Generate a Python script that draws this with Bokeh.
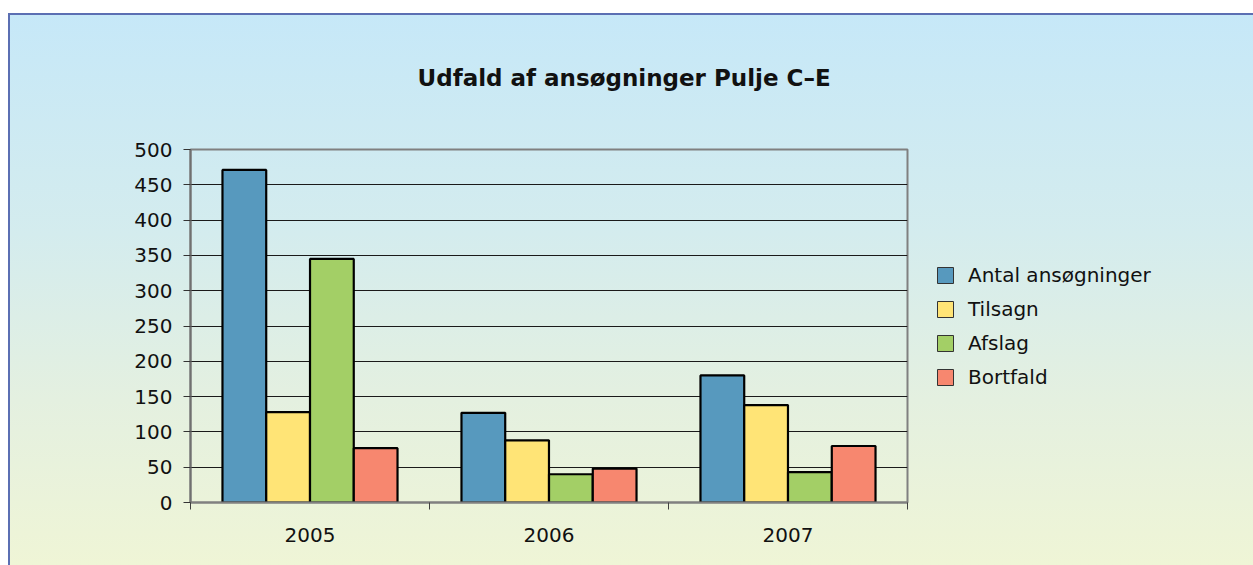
from bokeh.plotting import figure
from bokeh.models import (Range1d, FixedTicker, SingleIntervalTicker, Legend, LegendItem,
                          ColumnDataSource, InlineStyleSheet, Spacer)
from bokeh.layouts import column, row
from bokeh.embed import file_html
from bokeh.resources import INLINE

# ---- data ----
years = ["2005", "2006", "2007"]
series_names = ["Antal ansøgninger", "Tilsagn", "Afslag", "Bortfald"]
antal = [471, 127, 180]
tilsagn = [128, 88, 138]
afslag = [345, 40, 43]
bortfald = [77, 48, 80]
y_ticks_step = 50
y_max = 500

series_values = [antal, tilsagn, afslag, bortfald]
colors = ["#5799BE", "#FFE476", "#A3CF66", "#F7876F"]
offsets = [-0.2747, -0.0916, 0.0916, 0.2747]
bar_w = 0.183

FONT = "DejaVu Sans"
GRAD = "linear-gradient(to bottom, #C6E8F8 0%, #D4ECEE 40%, #E4F0E0 70%, #EFF5D6 100%)"

# ---------------- chart figure ----------------
p = figure(width=901, height=552, output_backend="svg", toolbar_location=None,
           x_range=Range1d(0, len(years)), y_range=Range1d(0, y_max),
           min_border_left=182, min_border_right=2, min_border_top=136,
           min_border_bottom=63)
p.background_fill_alpha = 0
p.border_fill_alpha = 0
p.stylesheets = [InlineStyleSheet(css=":host { background: %s; box-shadow: inset 2px 2px 0 0 #5b6fb3; }" % GRAD)]
p.outline_line_color = "#808080"
p.outline_line_width = 2

# title
p.title.text = "Udfald af ansøgninger Pulje C–E"
p.title.text_font = FONT
p.title.text_font_size = "23px"
p.title.text_font_style = "bold"
p.title.text_color = "#111111"
p.title.align = "left"
p.title.vertical_align = "bottom"
p.title.offset = 227
try:
    p.title.padding = dict(left=0, right=0, top=0, bottom=10)
    p.title.standoff = 97
except Exception:
    p.title.standoff = 107

# bars
for name, vals, col, off in zip(series_names, series_values, colors, offsets):
    src = ColumnDataSource(dict(x=[i + 0.5 + off for i in range(len(years))], top=vals))
    p.vbar(x="x", top="top", bottom=0, width=bar_w, source=src,
           fill_color=col, line_color="#000000", line_width=2.2)

# axes
xa = p.xaxis[0]
xa.ticker = FixedTicker(ticks=[i + 0.5 for i in range(len(years))],
                        minor_ticks=list(range(len(years) + 1)))
xa.major_label_overrides = {i + 0.5: y for i, y in enumerate(years)}
xa.major_tick_line_color = None
xa.major_tick_out = 0
xa.major_tick_in = 0
xa.minor_tick_out = 7
xa.minor_tick_in = 0
xa.minor_tick_line_color = "#404040"
xa.minor_tick_line_width = 1
xa.axis_line_color = "#808080"
xa.axis_line_width = 2
xa.major_label_text_font = FONT
xa.major_label_text_font_size = "20px"
xa.major_label_text_color = "#111111"
xa.major_label_standoff = 18

ya = p.yaxis[0]
ya.ticker = SingleIntervalTicker(interval=y_ticks_step, num_minor_ticks=0)
ya.major_tick_out = 7
ya.major_tick_in = 0
ya.major_tick_line_color = "#333333"
ya.minor_tick_line_color = None
ya.axis_line_color = "#707070"
ya.axis_line_width = 2
ya.major_label_text_font = FONT
ya.major_label_text_font_size = "20px"
ya.major_label_text_color = "#111111"
ya.major_label_standoff = 11

p.xgrid.grid_line_color = None
p.ygrid.ticker = SingleIntervalTicker(interval=y_ticks_step, num_minor_ticks=0)
p.ygrid.grid_line_color = "#1a1a1a"
p.ygrid.grid_line_width = 1

# ---------------- legend area figure ----------------
q = figure(width=344, height=552, output_backend="svg", toolbar_location=None,
           x_range=Range1d(0, 1), y_range=Range1d(0, 1),
           x_axis_location=None, y_axis_location=None, min_border=0)
q.background_fill_alpha = 0
q.border_fill_alpha = 0
q.outline_line_color = None
q.grid.visible = False
q.stylesheets = [InlineStyleSheet(css=":host { background: %s; box-shadow: inset 0 2px 0 0 #5b6fb3; }" % GRAD)]

nan = float("nan")
legend_items = []
for name, col in zip(series_names, colors):
    key = q.vbar(x=[nan], top=[nan], width=0.1, fill_color=col,
                 line_color="#333333", line_width=1)
    legend_items.append(LegendItem(label=name, renderers=[key]))

legend = Legend(items=legend_items, location=(26, 113))
legend.label_text_font = FONT
legend.label_text_font_size = "20px"
legend.label_text_color = "#111111"
legend.glyph_width = 20
legend.glyph_height = 20
legend.label_height = 20
legend.label_standoff = 13
legend.spacing = 10
legend.padding = 0
legend.margin = 0
legend.border_line_color = None
legend.background_fill_alpha = 0
q.add_layout(legend, "center")

layout = column(Spacer(height=13),
                row(Spacer(width=8), p, q, spacing=0),
                spacing=0)

open("out.html", "w").write(file_html(layout, INLINE))
